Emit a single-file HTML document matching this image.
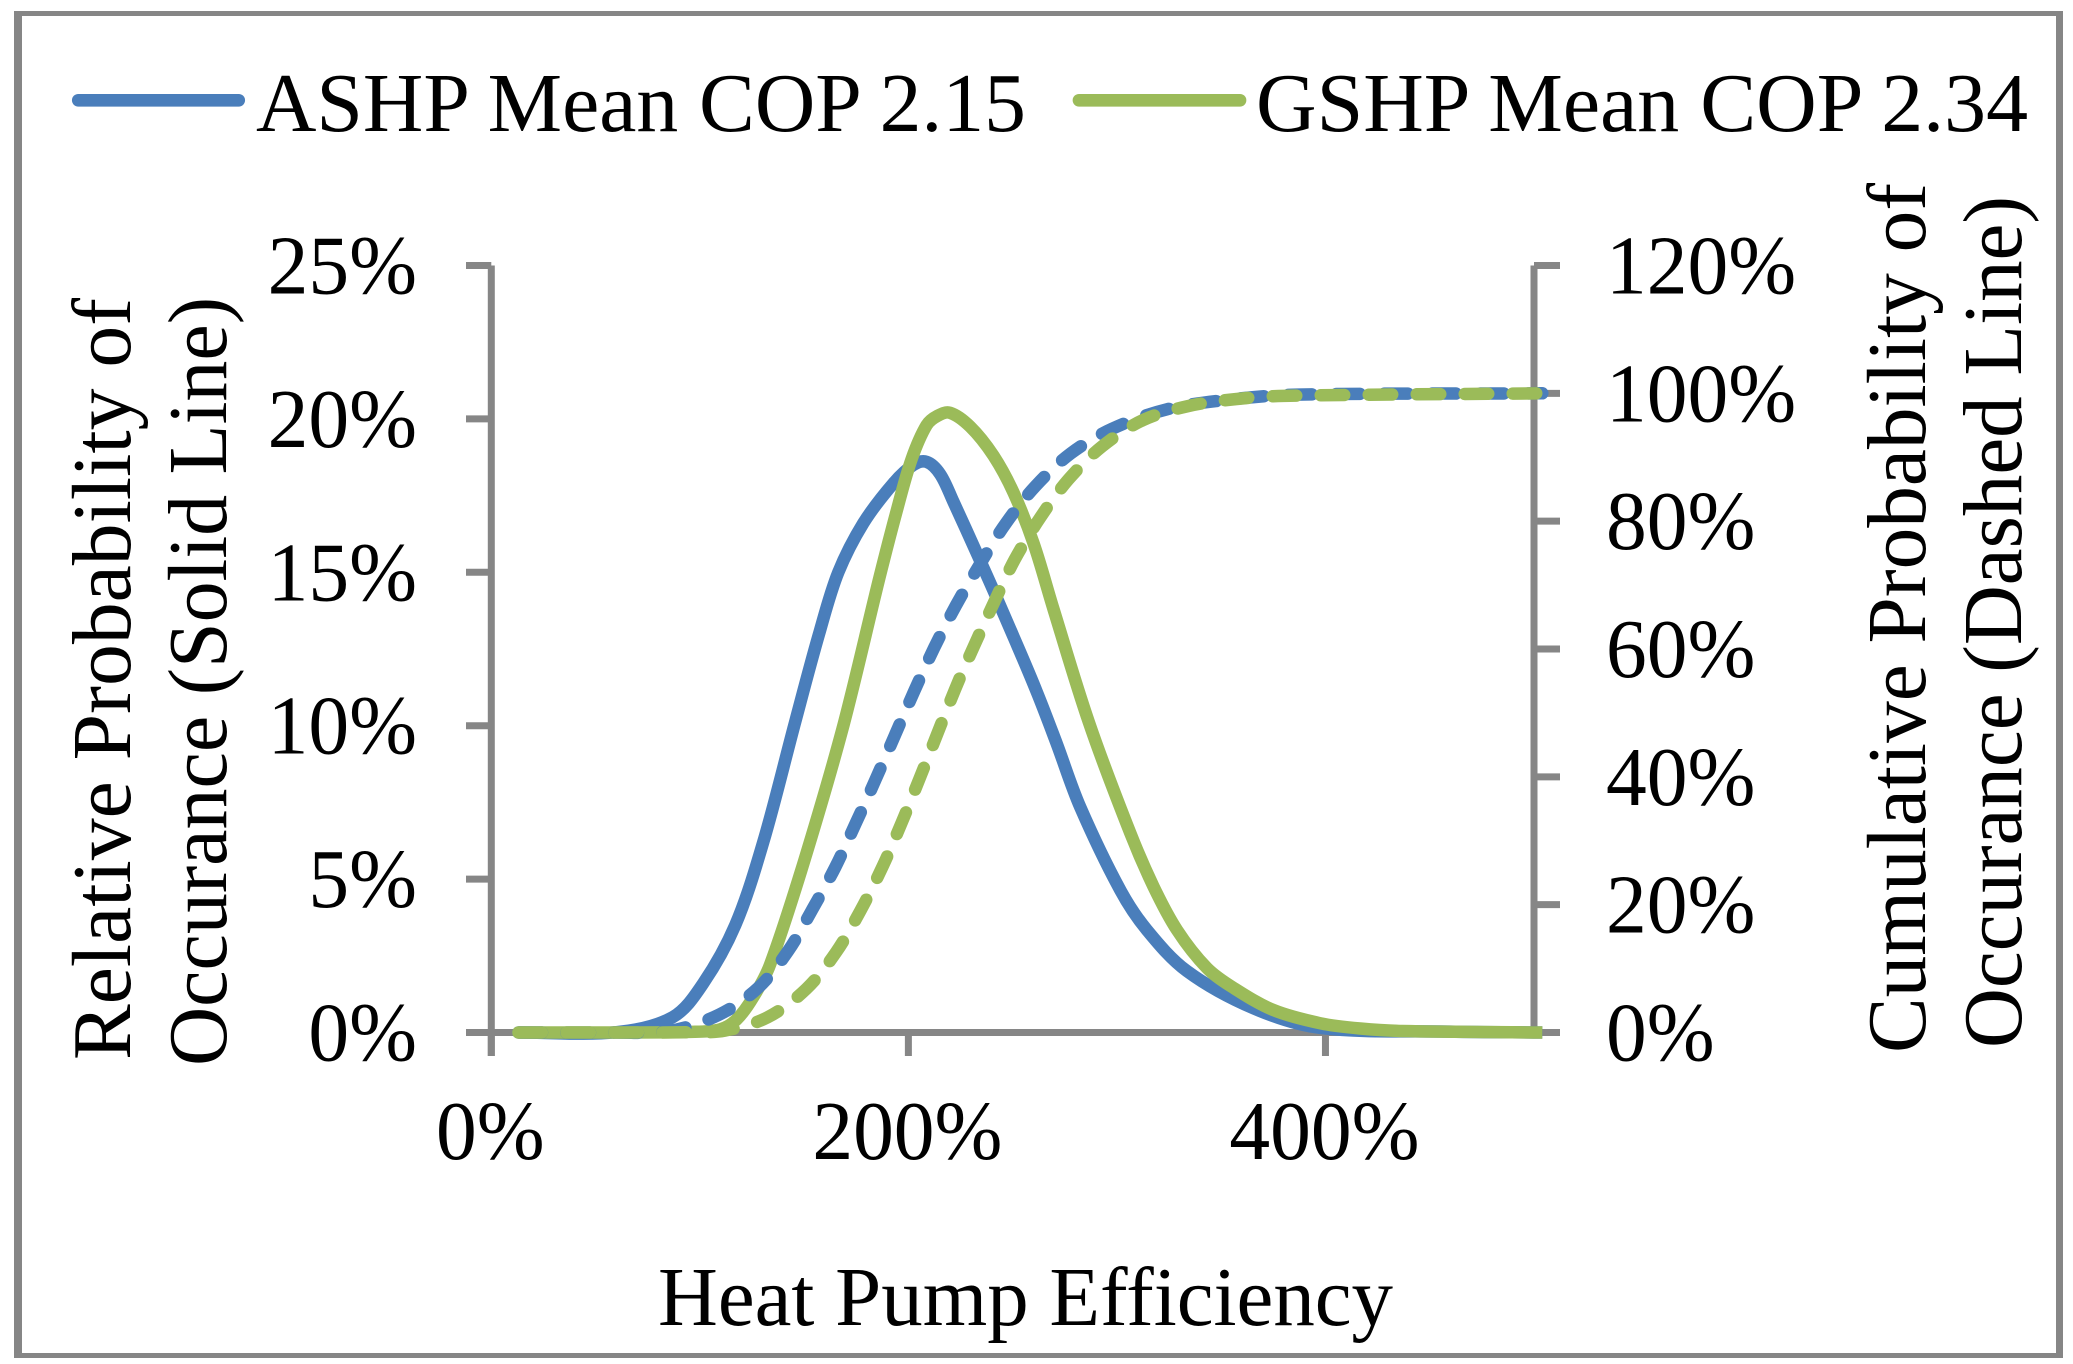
<!DOCTYPE html>
<html>
<head>
<meta charset="utf-8">
<title>Heat Pump Efficiency Chart</title>
<style>
html,body{margin:0;padding:0;background:#fff;}
svg{display:block;}
text{font-family:"Liberation Serif","Times New Roman",serif;fill:#000;}
</style>
</head>
<body>
<svg id="chart" xmlns="http://www.w3.org/2000/svg" width="2073" height="1364" viewBox="0 0 2073 1364">
  <rect x="0" y="0" width="2073" height="1364" fill="#ffffff"/>
  <g fill="#868686">
    <rect x="14" y="11" width="8" height="1347"/>
    <rect x="14" y="11" width="2049" height="5"/>
    <rect x="2056" y="11" width="7" height="1347"/>
    <rect x="14" y="1353" width="2049" height="5"/>
  </g>
  <g id="axes"></g>
  <g id="marks"></g>
  <g id="labels"></g>

  <g>
    <line x1="78.3" y1="100.3" x2="238.7" y2="100.3" stroke="#4a7ebb" stroke-width="12.7" stroke-linecap="round"/>
    <text x="256" y="131" font-size="84" textLength="770" lengthAdjust="spacingAndGlyphs">ASHP Mean COP 2.15</text>
    <line x1="1079" y1="100.3" x2="1240" y2="100.3" stroke="#9bbb59" stroke-width="12.7" stroke-linecap="round"/>
    <text x="1256" y="131" font-size="84" textLength="772" lengthAdjust="spacingAndGlyphs">GSHP Mean COP 2.34</text>
  </g>

  <text x="658" y="1325" font-size="84" textLength="735" lengthAdjust="spacingAndGlyphs">Heat Pump Efficiency</text>

  <text transform="translate(130,1060) rotate(-90)" font-size="84" textLength="762" lengthAdjust="spacingAndGlyphs">Relative Probability of</text>
  <text transform="translate(226,1066) rotate(-90)" font-size="84" textLength="769" lengthAdjust="spacingAndGlyphs">Occurance (Solid Line)</text>

  <text transform="translate(1925,1053) rotate(-90)" font-size="84" textLength="870" lengthAdjust="spacingAndGlyphs">Cumulative Probability of</text>
  <text transform="translate(2021,1048) rotate(-90)" font-size="84" textLength="852" lengthAdjust="spacingAndGlyphs">Occurance (Dashed Line)</text>
</svg>

<script>
// Tick values and labels
var xTicks = [0, 200, 400];
var xTickLabels = ['0%', '200%', '400%'];
var leftTicks = [0, 5, 10, 15, 20, 25];
var leftTickLabels = ['0%', '5%', '10%', '15%', '20%', '25%'];
var rightTicks = [0, 20, 40, 60, 80, 100, 120];
var rightTickLabels = ['0%', '20%', '40%', '60%', '80%', '100%', '120%'];

// ASHP relative probability (solid, left axis)
var ashpProbX = [13, 60, 87, 101.6, 117, 130.4, 146, 157.6, 166.4, 178.4, 192.8, 202.4, 208.8, 215.2, 221.6, 237.6, 250.4, 261.6, 271.2, 282.4, 301.6, 314.4, 333.6, 365.5, 397.6, 460, 504];
var ashpProbY = [0, 0.01, 0.5, 1.6, 3.5, 6.2, 10.2, 13.1, 15, 16.6, 17.9, 18.5, 18.6, 18.2, 17.3, 14.9, 12.9, 11.1, 9.4, 7.35, 4.64, 3.34, 2, 0.79, 0.15, 0.03, 0];

// GSHP relative probability (solid, left axis)
var gshpProbX = [13, 60, 95, 109.6, 117.6, 125.6, 133.6, 149.6, 168.4, 186.4, 194.4, 201.6, 208.8, 214, 220, 229.6, 240.8, 250.4, 260, 269.6, 286.6, 306.4, 317.6, 328.8, 343.2, 356, 375.1, 397.6, 416.7, 437, 504];
var gshpProbY = [0, 0, 0.02, 0.1, 0.42, 1.15, 2.2, 5.5, 9.9, 14.9, 17, 18.7, 19.8, 20.1, 20.2, 19.75, 18.8, 17.6, 15.95, 13.8, 10.1, 6.5, 4.75, 3.34, 2.1, 1.45, 0.73, 0.3, 0.13, 0.05, 0];

// ASHP cumulative probability (dashed, right axis)
var ashpCumX = [13, 60, 85, 109.3, 128, 142.4, 154, 165, 174.7, 184.3, 202.8, 212.4, 222.8, 234.4, 246.8, 261, 277.9, 297.4, 324, 356, 386.4, 504];
var ashpCumY = [0, 0, 0.2, 2.8, 7, 12.8, 19.3, 25.9, 32.7, 39.6, 53.4, 60.2, 66.8, 73.3, 79.7, 85.5, 90.6, 94.4, 97.5, 99.1, 99.8, 100];

// GSHP cumulative probability (dashed, right axis)
var gshpCumX = [13, 60, 95, 112, 132.6, 151, 165.4, 176.9, 187.3, 196.6, 205.2, 222.4, 231.5, 241.1, 251, 263.3, 276.7, 292.9, 312.4, 334.1, 356.9, 380, 504];
var gshpCumY = [0, 0, 0.05, 0.3, 2.4, 6.8, 12.6, 19, 25.75, 32.7, 39.6, 53.7, 60.5, 67.3, 74, 80.6, 86.5, 91.7, 95.8, 98, 99.1, 99.6, 100];

var NS = 'http://www.w3.org/2000/svg';
var X_LEFT = 491.3, X_RIGHT = 1534, Y_BOTTOM = 1032.5, Y_TOP = 265.5;

function xPos(v) { return X_LEFT + (v / 500) * (X_RIGHT - X_LEFT); }
function yLeft(v) { return Y_BOTTOM - (v / 25) * (Y_BOTTOM - Y_TOP); }
function yRight(v) { return Y_BOTTOM - (v / 120) * (Y_BOTTOM - Y_TOP); }

function smoothPath(xs, ys, yFn) {
  var p = xs.map(function (x, i) { return [xPos(x), yFn(ys[i])]; });
  var d = 'M' + p[0][0].toFixed(1) + ' ' + p[0][1].toFixed(1);
  for (var i = 0; i < p.length - 1; i++) {
    var a = p[Math.max(i - 1, 0)], b = p[i], c = p[i + 1], e = p[Math.min(i + 2, p.length - 1)];
    var len = Math.hypot(c[0] - b[0], c[1] - b[1]);
    var l1 = Math.hypot(c[0] - a[0], c[1] - a[1]) || 1;
    var l2 = Math.hypot(e[0] - b[0], e[1] - b[1]) || 1;
    var c1x = b[0] + (c[0] - a[0]) / l1 * len / 3, c1y = b[1] + (c[1] - a[1]) / l1 * len / 3;
    var c2x = c[0] - (e[0] - b[0]) / l2 * len / 3, c2y = c[1] - (e[1] - b[1]) / l2 * len / 3;
    d += 'C' + c1x.toFixed(1) + ' ' + c1y.toFixed(1) + ' ' + c2x.toFixed(1) + ' ' + c2y.toFixed(1) + ' ' + c[0].toFixed(1) + ' ' + c[1].toFixed(1);
  }
  return d;
}

function axisLine(x1, y1, x2, y2) {
  var l = document.createElementNS(NS, 'line');
  l.setAttribute('x1', x1);
  l.setAttribute('y1', y1);
  l.setAttribute('x2', x2);
  l.setAttribute('y2', y2);
  l.setAttribute('stroke', '#868686');
  l.setAttribute('stroke-width', '7');
  document.getElementById('axes').appendChild(l);
  return l;
}

function tickLabel(str, x, y, anchor) {
  var t = document.createElementNS(NS, 'text');
  t.setAttribute('x', x);
  t.setAttribute('y', y);
  t.setAttribute('font-size', '84');
  t.setAttribute('text-anchor', anchor);
  t.setAttribute('lengthAdjust', 'spacingAndGlyphs');
  t.textContent = str;
  document.getElementById('labels').appendChild(t);
  t.setAttribute('textLength', (t.getComputedTextLength() * 0.97).toFixed(1));
  return t;
}

var el;
el = axisLine(X_LEFT, Y_TOP, X_LEFT, Y_BOTTOM + 23.5);


el = axisLine(X_RIGHT, Y_TOP, X_RIGHT, Y_BOTTOM);


el = axisLine(X_LEFT, Y_BOTTOM, X_RIGHT, Y_BOTTOM);



leftTicks.forEach(function (v, i) {
  var tick = axisLine(466, yLeft(v), X_LEFT, yLeft(v));
  
  
  var lab = tickLabel(leftTickLabels[i], 417, yLeft(v) + 28, 'end');
  
  
});

rightTicks.forEach(function (v, i) {
  var tick = axisLine(X_RIGHT, yRight(v), 1560, yRight(v));
  
  
  var lab = tickLabel(rightTickLabels[i], 1606, yRight(v) + 28, 'start');
  
  
});

xTicks.forEach(function (v, i) {
  var tick = axisLine(xPos(v), Y_BOTTOM, xPos(v), Y_BOTTOM + 23.5);
  
  
  var lab = tickLabel(xTickLabels[i], xPos(v) - 1, 1159, 'middle');
  
  
});

function seriesPath(d, color, dashed) {
  var p = document.createElementNS(NS, 'path');
  p.setAttribute('d', d);
  p.setAttribute('fill', 'none');
  p.setAttribute('stroke', color);
  p.setAttribute('stroke-width', '12.5');
  p.setAttribute('stroke-linejoin', 'round');
  if (dashed) {
    p.setAttribute('stroke-dasharray', '23.5 24.5');
    p.setAttribute('stroke-linecap', 'round');
  }
  document.getElementById('marks').appendChild(p);
  return p;
}

var s1 = seriesPath(smoothPath(ashpProbX, ashpProbY, yLeft), '#4a7ebb', false);


var s2 = seriesPath(smoothPath(gshpProbX, gshpProbY, yLeft), '#9bbb59', false);


var s3 = seriesPath(smoothPath(ashpCumX, ashpCumY, yRight), '#4a7ebb', true);


var s4 = seriesPath(smoothPath(gshpCumX, gshpCumY, yRight), '#9bbb59', true);


</script>
</body>
</html>
